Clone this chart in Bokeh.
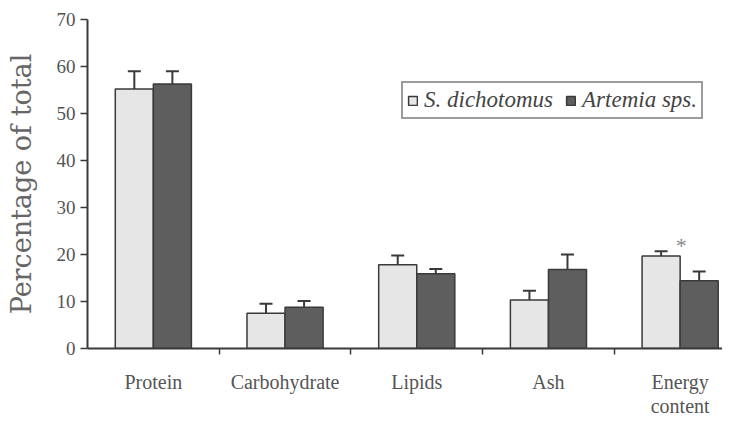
from bokeh.plotting import figure
from bokeh.models import (Range1d, FixedTicker, Whisker, ColumnDataSource, Legend, LegendItem)
from bokeh.core.properties import value
from bokeh.embed import file_html
from bokeh.resources import INLINE

# ---- data ----
categories = ["Protein", "Carbohydrate", "Lipids", "Ash", "Energy\ncontent"]
s_dichotomus = [55.2, 7.5, 17.8, 10.3, 19.7]
s_dichotomus_err = [3.8, 2.0, 2.0, 2.0, 1.0]
artemia = [56.3, 8.8, 15.9, 16.8, 14.4]
artemia_err = [2.7, 1.3, 1.0, 3.2, 2.0]
y_ticks = [0, 10, 20, 30, 40, 50, 60, 70]
significant = [4]  # index of category marked with "*"

# ---- styling ----
BAR_W = 0.289
LIGHT = "#e6e6e6"
DARK = "#5e5e5e"
EDGE = "#3a3a3a"
TXT = "#555555"

centers = [i + 0.5 for i in range(len(categories))]
x_light = [c - BAR_W / 2 for c in centers]
x_dark = [c + BAR_W / 2 for c in centers]

src_l = ColumnDataSource(dict(x=x_light, top=s_dichotomus,
                              up=[v + e for v, e in zip(s_dichotomus, s_dichotomus_err)]))
src_d = ColumnDataSource(dict(x=x_dark, top=artemia,
                              up=[v + e for v, e in zip(artemia, artemia_err)]))

W, H = 722, 419
LEFT = 87
p = figure(width=W, height=H, output_backend="svg", toolbar_location=None,
           x_range=Range1d(0, (W - LEFT) / 131.7), y_range=Range1d(0, 70),
           min_border_left=LEFT, min_border_right=0, min_border_top=19, min_border_bottom=60)
p.outline_line_color = None
p.xgrid.grid_line_color = None
p.ygrid.grid_line_color = None
p.background_fill_color = "white"
p.border_fill_color = "white"

rl = p.vbar(x="x", top="top", width=BAR_W, bottom=0, source=src_l,
            fill_color=LIGHT, line_color=EDGE, line_width=1.5)
rd = p.vbar(x="x", top="top", width=BAR_W, bottom=0, source=src_d,
            fill_color=DARK, line_color=EDGE, line_width=1.5)

for src in (src_l, src_d):
    w = Whisker(base="x", lower="top", upper="up", source=src, dimension="height",
                line_color=EDGE, line_width=2, lower_head=None)
    w.upper_head.size = 13
    w.upper_head.line_color = EDGE
    w.upper_head.line_width = 2
    p.add_layout(w)

ast_src = ColumnDataSource(dict(
    x=[centers[i] for i in significant],
    y=[s_dichotomus[i] + s_dichotomus_err[i] for i in significant],
    t=["*" for _ in significant]))
p.text(x="x", y="y", text="t", source=ast_src, text_font=value("Liberation Serif"),
       text_font_size="22px", text_color="#888888", text_align="center",
       text_baseline="bottom", x_offset=1, y_offset=7)

ax = p.xaxis[0]
ax.ticker = FixedTicker(ticks=centers, minor_ticks=[1, 2, 3, 4])
ax.major_label_overrides = {c: lab for c, lab in zip(centers, categories)}
ax.major_tick_line_color = None
ax.major_tick_out = 0
ax.major_tick_in = 0
ax.minor_tick_line_color = EDGE
ax.minor_tick_line_width = 1.5
ax.minor_tick_out = 6
ax.minor_tick_in = 0
ax.axis_line_color = EDGE
ax.axis_line_width = 2
ax.major_label_text_font = "Liberation Serif"
ax.major_label_text_font_size = "20px"
ax.major_label_text_line_height = 1.1
ax.major_label_text_color = TXT
ax.major_label_standoff = 16

ay = p.yaxis[0]
ay.ticker = FixedTicker(ticks=y_ticks, minor_ticks=[])
ay.major_tick_out = 7
ay.major_tick_in = 0
ay.major_tick_line_color = EDGE
ay.major_tick_line_width = 1.5
ay.axis_line_color = EDGE
ay.axis_line_width = 2
ay.major_label_text_font = "Liberation Serif"
ay.major_label_text_font_size = "19px"
ay.major_label_text_color = TXT
ay.major_label_standoff = 5
ay.axis_label = "Percentage of total"
ay.axis_label_text_font = "DejaVu Serif"
ay.axis_label_text_font_style = "normal"
ay.axis_label_text_font_size = "27px"
ay.axis_label_text_color = "#666666"
ay.axis_label_standoff = 17

legend = Legend(items=[LegendItem(label="S. dichotomus", renderers=[rl]),
                       LegendItem(label="Artemia sps.", renderers=[rd])],
                orientation="horizontal", location=(314, 229))
legend.label_text_font = "Liberation Serif"
legend.label_text_font_style = "italic"
legend.label_text_font_size = "23px"
legend.label_text_color = "#444444"
legend.glyph_width = 11
legend.glyph_height = 11
legend.label_standoff = 6
legend.spacing = 12
legend.padding = 4
legend.margin = 0
legend.border_line_color = EDGE
legend.border_line_width = 2
p.add_layout(legend, "center")

open("out.html", "w").write(file_html(p, INLINE))
